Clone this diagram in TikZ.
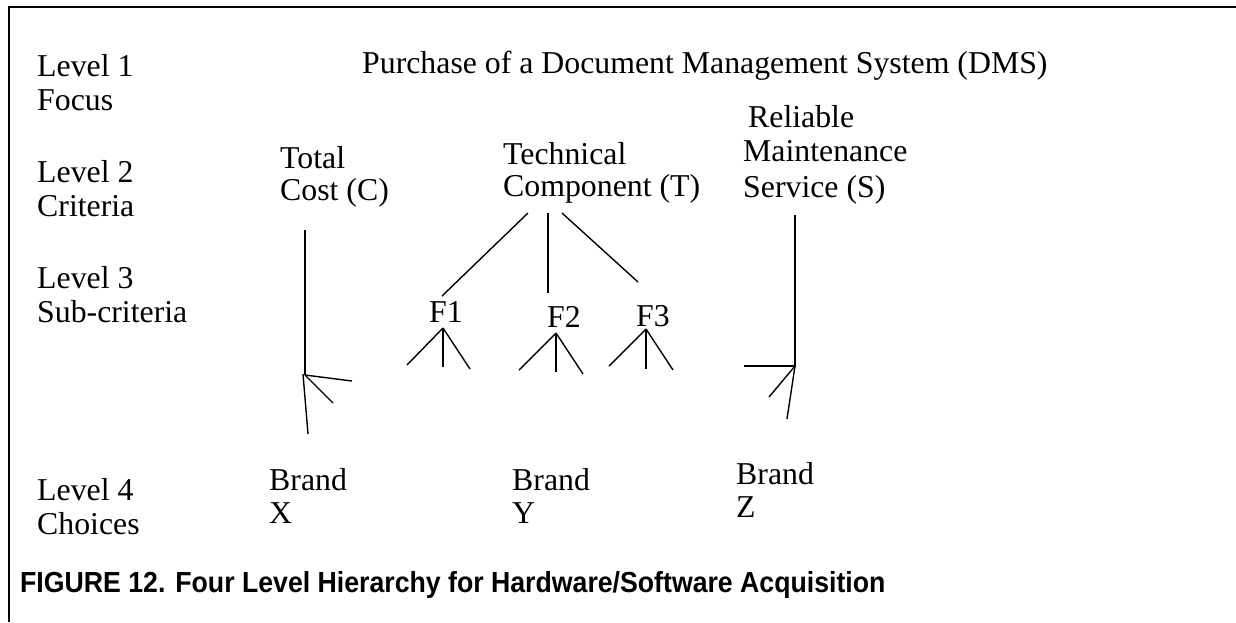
\documentclass[tikz,border=0pt]{standalone}
\usepackage{fontspec}
\setmainfont{Liberation Serif}
\newfontfamily\capfont{Liberation Sans}
\begin{document}
\begin{tikzpicture}[x=1pt,y=-1pt,
  txt/.style={anchor=base west, inner sep=0pt, font=\fontsize{31.8}{34}\selectfont},
  captxt/.style={anchor=base west, inner sep=0pt, xscale=0.92, font=\capfont\bfseries\fontsize{29}{32}\selectfont},
  bar/.style={line width=2.4pt},
  twig/.style={line width=1.4pt},
  frameline/.style={line width=2.6pt}]
\useasboundingbox (0,0) rectangle (1236,622);

% frame: top and left edges only
\coordinate (fTR) at (1236,7);
\coordinate (fTL) at (9,7);
\coordinate (fBL) at (9,622);
\draw[frameline] (fTR) -- (fTL) -- (fBL);

% level labels
\node[txt] (l1a) at (37,76)  {Level 1};
\node[txt] (l1b) at (37,110) {Focus};
\node[txt] (l2a) at (37,182) {Level 2};
\node[txt] (l2b) at (37,216) {Criteria};
\node[txt] (l3a) at (37,288) {Level 3};
\node[txt] (l3b) at (37,322) {Sub-criteria};
\node[txt] (l4a) at (37,500) {Level 4};
\node[txt] (l4b) at (37,534) {Choices};

% focus
\node[txt] (focus) at (362,73) {Purchase of a Document Management System (DMS)};

% criteria
\node[txt] (ca) at (280,168) {Total};
\node[txt] (cb) at (280,200) {Cost (C)};
\node[txt] (ta) at (503,164) {Technical};
\node[txt] (tb) at (503,196) {Component (T)};
\node[txt] (sa) at (748,127) {Reliable};
\node[txt] (sb) at (743,161) {Maintenance};
\node[txt] (sc) at (743,197) {Service (S)};

% sub-criteria
\node[txt] (f1) at (429,322) {F1};
\node[txt] (f2) at (547,327) {F2};
\node[txt] (f3) at (636,326) {F3};

% choices
\node[txt] (bxa) at (269,490) {Brand};
\node[txt] (bxb) at (269,523) {X};
\node[txt] (bya) at (512,490) {Brand};
\node[txt] (byb) at (512,523) {Y};
\node[txt] (bza) at (736,484) {Brand};
\node[txt] (bzb) at (736,517) {Z};

% caption
\node[captxt] (cap) at (20,592) {FIGURE 12. Four Level Hierarchy for Hardware/Software Acquisition};

% cost branch
\coordinate (cTop) at (305,230);
\coordinate (cJoin) at (305,375);
\coordinate (cR1) at (352,381);
\coordinate (cR2) at (333,403);
\coordinate (cJoinB) at (303,374);
\coordinate (cDown) at (308,434);
\draw[bar] (cTop) -- (cJoin);
\draw[twig] (cJoin) -- (cR1);
\draw[twig] (cJoin) -- (cR2);
\draw[twig] (cJoinB) -- (cDown);

% technical branch to F1..F3
\coordinate (tL) at (528,213);
\coordinate (tM) at (548,213);
\coordinate (tR) at (562,213);
\coordinate (f1Top) at (442,296);
\coordinate (f2Top) at (548,293);
\coordinate (f3Top) at (638,282);
\draw[twig] (tL) -- (f1Top);
\draw[bar] (tM) -- (f2Top);
\draw[twig] (tR) -- (f3Top);

% twigs under F1, F2, F3
\coordinate (f1A) at (443,328);
\coordinate (f1L) at (407,365);
\coordinate (f1M) at (443,367);
\coordinate (f1R) at (470,369);
\draw[twig] (f1A) -- (f1L);
\draw[bar] (f1A) -- (f1M);
\draw[twig] (f1A) -- (f1R);

\coordinate (f2A) at (556,333);
\coordinate (f2L) at (519,370);
\coordinate (f2M) at (556,372);
\coordinate (f2R) at (583,374);
\draw[twig] (f2A) -- (f2L);
\draw[bar] (f2A) -- (f2M);
\draw[twig] (f2A) -- (f2R);

\coordinate (f3A) at (646,329);
\coordinate (f3L) at (609,366);
\coordinate (f3M) at (646,369);
\coordinate (f3R) at (673,370);
\draw[twig] (f3A) -- (f3L);
\draw[bar] (f3A) -- (f3M);
\draw[twig] (f3A) -- (f3R);

% service branch
\coordinate (sTop) at (795,215);
\coordinate (sJoin) at (795,366);
\coordinate (sLeft) at (744,366);
\coordinate (sD1) at (769,397);
\coordinate (sD2) at (787,419);
\draw[bar] (sTop) -- (sJoin) -- (sLeft);
\draw[twig] (sJoin) -- (sD1);
\draw[twig] (sJoin) -- (sD2);
\end{tikzpicture}
\end{document}
